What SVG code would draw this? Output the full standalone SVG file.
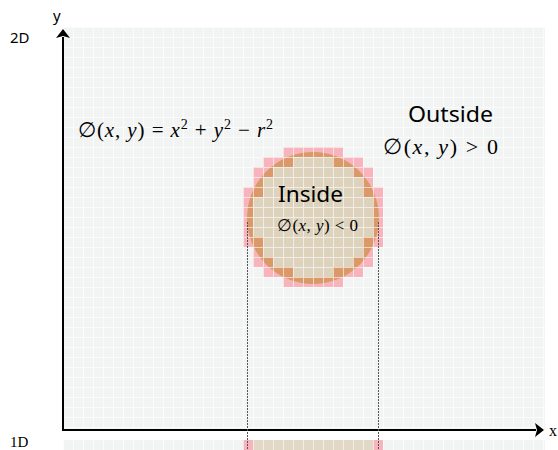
<svg xmlns="http://www.w3.org/2000/svg" xmlns:xlink="http://www.w3.org/1999/xlink" width="558" height="450" viewBox="0 0 558 450">
<style>
.lbl{font-family:"Noto Sans","DejaVu Sans",sans-serif;fill:#000}
.math{font-family:"Liberation Serif","DejaVu Serif",serif;fill:#000}
.it{font-style:italic}
.axis{stroke:#000;stroke-width:2;fill:none}
.guide{stroke:#555;stroke-width:1;stroke-dasharray:2 1;fill:none}
</style>
<defs>
<pattern id="gl" patternUnits="userSpaceOnUse" x="63" y="27" width="10" height="10">
<path d="M0 0.5H10M0.5 0V10" stroke="#fff" stroke-width="1"/>
</pattern>
<pattern id="gv" patternUnits="userSpaceOnUse" x="63" y="440" width="10" height="10">
<path d="M0.5 0V10" stroke="#fff" stroke-width="1"/>
</pattern>
<clipPath id="cc"><circle cx="313" cy="218" r="66"/></clipPath>
<path id="bcells" d="M283 147h60v10h-60z M263 157h30v10h-30z M333 157h30v10h-30z M253 167h20v10h-20z M353 167h20v10h-20z M253 177h10v10h-10z M363 177h10v10h-10z M243 187h20v10h-20z M363 187h20v10h-20z M243 197h10v40h-10z M373 197h10v40h-10z M243 237h20v10h-20z M363 237h20v10h-20z M253 247h10v10h-10z M363 247h10v10h-10z M253 257h20v10h-20z M353 257h20v10h-20z M263 267h30v10h-30z M333 267h30v10h-30z M283 277h60v10h-60z"/>
<marker id="ah" markerUnits="userSpaceOnUse" markerWidth="10" markerHeight="14" refX="1" refY="7" orient="auto">
<path d="M0 0L9 7L0 14L2 7z" fill="#000"/>
</marker>
</defs>

<g id="grid2d">
<rect x="63" y="27" width="482" height="403" fill="#f2f4f4"/>
</g>

<g id="circle">
<use xlink:href="#bcells" fill="#f8b4bc"/>
<circle cx="313" cy="218" r="66" fill="#ddd2bc"/>
<use xlink:href="#bcells" fill="#db9868" clip-path="url(#cc)"/>
</g>

<rect x="63" y="27" width="482" height="403" fill="url(#gl)" opacity="0.6"/>

<g id="grid1d">
<rect x="63" y="440" width="482" height="10" fill="#f2f4f4"/>
<rect x="253" y="440" width="120" height="10" fill="#e2d8c6"/>
<rect x="243" y="440" width="10" height="10" fill="#f8b4bc"/>
<rect x="373" y="440" width="10" height="10" fill="#f8b4bc"/>
<rect x="63" y="440" width="482" height="10" fill="url(#gv)" opacity="0.6"/>
</g>

<g id="connectors">
<path class="axis" d="M63 430V37" marker-end="url(#ah)"/>
<path class="axis" d="M62 430H536" marker-end="url(#ah)"/>
<path class="guide" d="M247.5 222V450"/>
<path class="guide" d="M378.5 222V450"/>
</g>

<g id="labels">
<text class="lbl" x="53" y="21" font-size="15">y</text>
<text class="lbl" x="10" y="43" font-size="15">2D</text>
<text class="math" x="10" y="447" font-size="15">1D</text>
<text class="math" x="549" y="436" font-size="16">x</text>
<text class="math" x="78" y="137" font-size="21" textLength="195" lengthAdjust="spacing">∅(<tspan class="it">x</tspan>, <tspan class="it">y</tspan>) = <tspan class="it">x</tspan><tspan dy="-8" font-size="14">2</tspan><tspan dy="8"> + </tspan><tspan class="it">y</tspan><tspan dy="-8" font-size="14">2</tspan><tspan dy="8"> − </tspan><tspan class="it">r</tspan><tspan dy="-8" font-size="14">2</tspan></text>
<text class="lbl" x="408" y="122" font-size="21" textLength="85" lengthAdjust="spacingAndGlyphs">Outside</text>
<text class="math" x="383" y="154" font-size="22" textLength="115" lengthAdjust="spacing">∅(<tspan class="it">x</tspan>, <tspan class="it">y</tspan>) &gt; 0</text>
<text class="lbl" x="278" y="202" font-size="21" textLength="65" lengthAdjust="spacingAndGlyphs">Inside</text>
<text class="math" x="277" y="231" font-size="17" textLength="81" lengthAdjust="spacing">∅(<tspan class="it">x</tspan>, <tspan class="it">y</tspan>) &lt; 0</text>
</g>
</svg>
